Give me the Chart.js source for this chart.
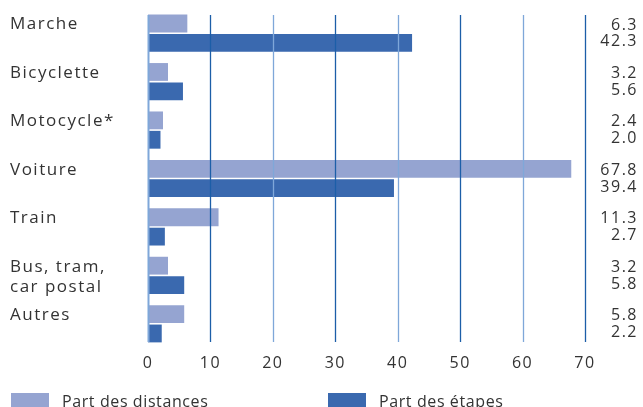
<!DOCTYPE html>
<html lang="fr">
<head>
<meta charset="utf-8">
<script src="https://cdn.jsdelivr.net/npm/chart.js@4"></script>
<style>
  html, body { margin: 0; padding: 0; background: #fff; }
  #wrap { width: 643px; height: 407px; }
</style>
</head>
<body>
<div id="wrap"><canvas id="graficaModes" width="643" height="407"></canvas></div>
<script>
const categorias = [['Marche'], ['Bicyclette'], ['Motocycle*'], ['Voiture'], ['Train'], ['Bus, tram,', 'car postal'], ['Autres']];
const partDistances = [6.3, 3.2, 2.4, 67.8, 11.3, 3.2, 5.8];
const partEtapes = [42.3, 5.6, 2.0, 39.4, 2.7, 5.8, 2.2];
const nombresSeries = ['Part des distances', 'Part des étapes'];
const ticksX = [0, 10, 20, 30, 40, 50, 60, 70];

const COLOR_CLARO = '#95a4d1';
const COLOR_OSCURO = '#3a69af';
const FUENTE = '"Open Sans", "DejaVu Sans", sans-serif';
const TEXTO = '#333333';

// reglas verticales por encima de las barras, un poco mas cortas que el area
const pluginRejilla = {
    id: 'rejilla',
    beforeDraw(chart) { chart.ctx.letterSpacing = '1.5px'; },
    afterDatasetsDraw(chart) {
        const { ctx, chartArea, scales: { x } } = chart;
        ctx.save();
        x.ticks.forEach((t, i) => {
            const px = Math.round(x.getPixelForValue(t.value)) + 0.5;
            ctx.strokeStyle = i % 2 === 0 ? '#7fa7d9' : '#1c5ea8';
            ctx.lineWidth = i === 0 ? 2 : 1.3;
            ctx.beginPath();
            ctx.moveTo(px, chartArea.top + 6);
            ctx.lineTo(px, chartArea.bottom - 6);
            ctx.stroke();
        });
        ctx.restore();
    }
};

// etiquetas de categoria, valores a la derecha y leyenda abajo
const pluginTextos = {
    id: 'textos',
    afterDraw(chart) {
        const ctx = chart.ctx;
        const barrasClaras = chart.getDatasetMeta(0).data;
        const barrasOscuras = chart.getDatasetMeta(1).data;
        ctx.save();
        ctx.fillStyle = TEXTO;

        ctx.letterSpacing = '1.5px';
        ctx.font = '17px ' + FUENTE;
        ctx.textAlign = 'left';
        ctx.textBaseline = 'middle';
        categorias.forEach((lineas, i) => {
            lineas.forEach((l, j) => ctx.fillText(l, 10, barrasClaras[i].y + 1 + j * 20));
        });

        ctx.font = '16px ' + FUENTE;
        ctx.textAlign = 'right';
        partDistances.forEach((v, i) => ctx.fillText(v.toFixed(1), chart.width - 5, barrasClaras[i].y + 1.5));
        partEtapes.forEach((v, i) => ctx.fillText(v.toFixed(1), chart.width - 5, barrasOscuras[i].y - 1));

        ctx.letterSpacing = '0.6px';
        ctx.textAlign = 'left';
        ctx.textBaseline = 'alphabetic';
        const posLeyenda = [11, 328];
        chart.data.datasets.forEach((ds, i) => {
            ctx.fillStyle = ds.backgroundColor;
            ctx.fillRect(posLeyenda[i], 393, 38, 16);
            ctx.fillStyle = TEXTO;
            ctx.fillText(ds.label, posLeyenda[i] + 51, 407);
        });
        ctx.restore();
    }
};

const ctx = document.getElementById('graficaModes').getContext('2d');
new Chart(ctx, {
    type: 'bar',
    data: {
        labels: categorias,
        datasets: [
            { label: nombresSeries[0], data: partDistances, backgroundColor: COLOR_CLARO, categoryPercentage: 0.8, barPercentage: 0.92 },
            { label: nombresSeries[1], data: partEtapes, backgroundColor: COLOR_OSCURO, categoryPercentage: 0.8, barPercentage: 0.92 }
        ]
    },
    options: {
        indexAxis: 'y',
        responsive: false,
        animation: false,
        layout: { padding: { left: 148, right: 58, top: 9, bottom: 34 } },
        plugins: { legend: { display: false }, tooltip: { enabled: false } },
        scales: {
            y: { display: false },
            x: {
                min: 0, max: 70,
                afterBuildTicks: s => { s.ticks = ticksX.map(v => ({ value: v })); },
                afterFit: s => { s.height = 25; },
                grid: { display: false, drawTicks: false },
                border: { display: false },
                ticks: { color: TEXTO, font: { family: FUENTE, size: 16 }, padding: 6, maxRotation: 0 }
            }
        }
    },
    plugins: [pluginRejilla, pluginTextos]
});
</script>
</body>
</html>
